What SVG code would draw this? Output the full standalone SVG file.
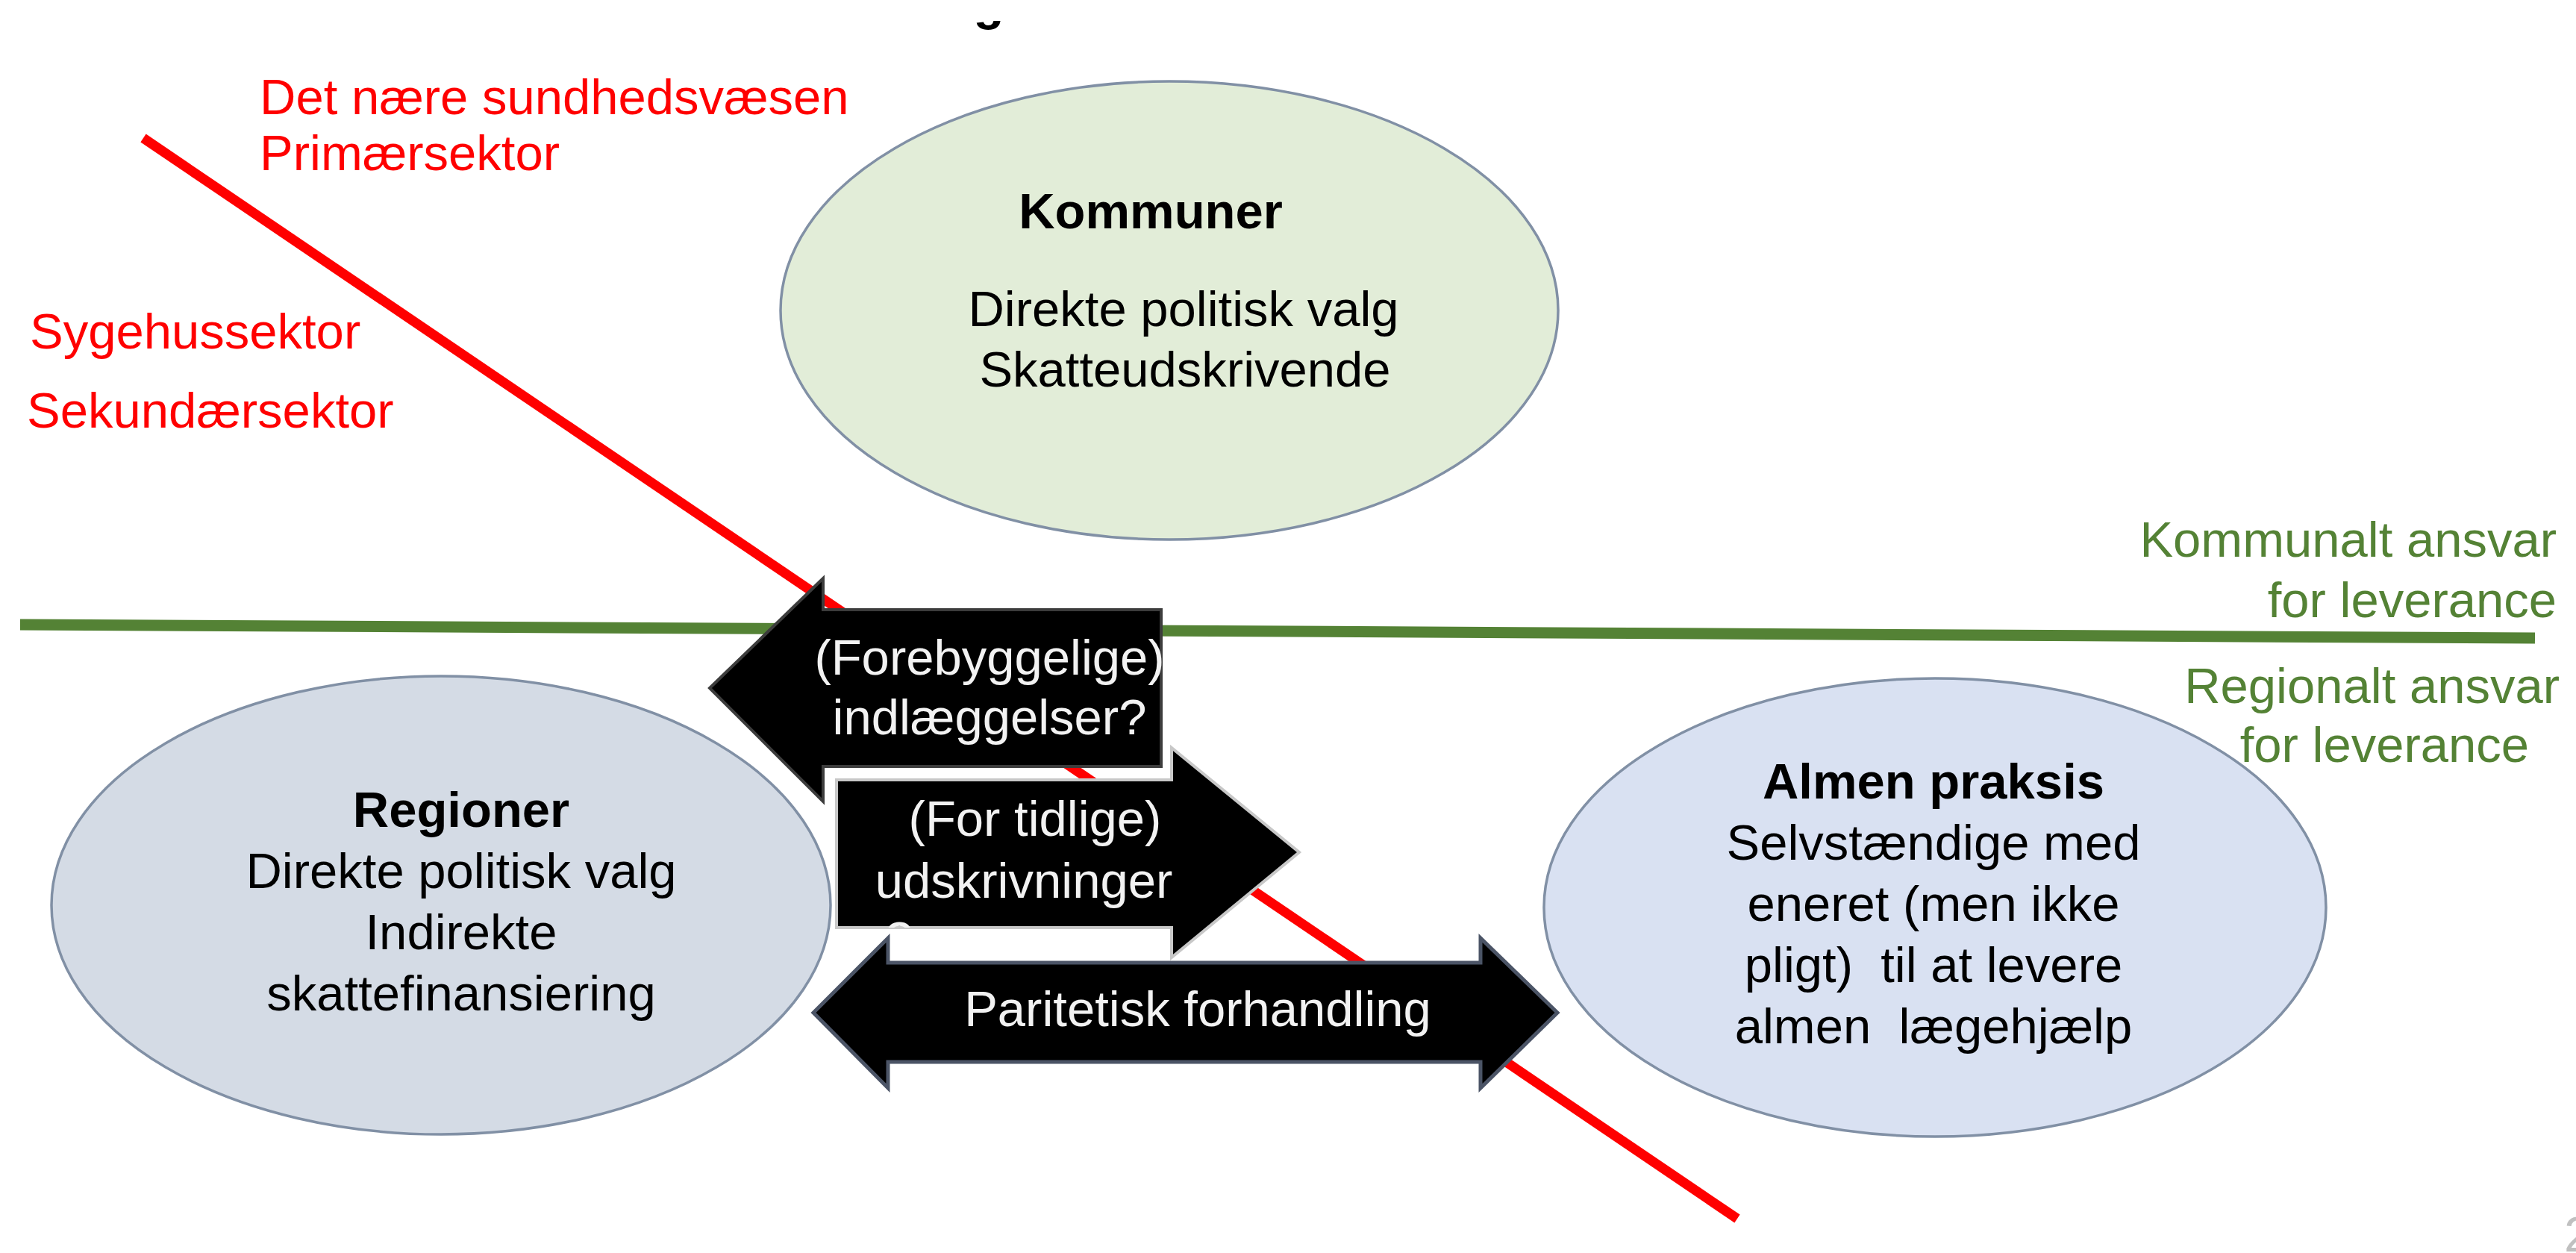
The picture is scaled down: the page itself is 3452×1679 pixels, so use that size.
<svg xmlns="http://www.w3.org/2000/svg" width="3452" height="1679" viewBox="0 0 3452 1679">
<style>
text{font-family:"Liberation Sans",Arial,sans-serif;font-size:67px;white-space:pre}
.n{fill:#000;text-anchor:middle}
.b{font-weight:bold}
.red{fill:#ff0000}
.grn{fill:#548235;text-anchor:end}
.w{fill:#f2f2f2;text-anchor:middle}
.ell{stroke:#8190a5;stroke-width:3.5}
</style>
<defs>
<clipPath id="topclip"><rect x="1200" y="28" width="300" height="60"/></clipPath>
<clipPath id="rbody"><rect x="1121" y="1045" width="449" height="198"/></clipPath>
</defs>
<rect width="3452" height="1679" fill="#fff"/>
<text x="1325" y="26" font-size="150" font-weight="bold" text-anchor="middle" clip-path="url(#topclip)" fill="#000">g</text>
<text x="3436" y="1677" font-size="40" fill="#c0c0c0">2</text>

<g id="dividers">
<line x1="27" y1="837" x2="3397" y2="855" stroke="#548235" stroke-width="15"/>
<line x1="192" y1="185" x2="2328" y2="1633" stroke="#ff0000" stroke-width="13"/>
</g>

<g id="labels">
<text class="red" x="348" y="153">Det nære sundhedsvæsen</text>
<text class="red" x="348" y="228">Primærsektor</text>
<text class="red" x="40" y="467">Sygehussektor</text>
<text class="red" x="36" y="573">Sekundærsektor</text>
<text class="grn" x="3426" y="746">Kommunalt ansvar</text>
<text class="grn" x="3426" y="827">for leverance</text>
<text class="grn" x="3430" y="942">Regionalt ansvar</text>
<text class="grn" x="3389" y="1021">for leverance</text>
</g>

<g id="kommuner">
<ellipse class="ell" cx="1567" cy="416" rx="521" ry="307" fill="#e2edd8"/>
<text class="n b" x="1542" y="306">Kommuner</text>
<text class="n" x="1586" y="437">Direkte politisk valg</text>
<text class="n" x="1588" y="518">Skatteudskrivende</text>
</g>

<g id="regioner">
<ellipse class="ell" cx="591" cy="1213" rx="522" ry="307" fill="#d4dbe5"/>
<text class="n b" x="618" y="1108">Regioner</text>
<text class="n" x="618" y="1190">Direkte politisk valg</text>
<text class="n" x="618" y="1272">Indirekte</text>
<text class="n" x="618" y="1354">skattefinansiering</text>
</g>

<g id="almen-praksis">
<ellipse class="ell" cx="2593" cy="1216" rx="524" ry="307" fill="#d9e1f2"/>
<text class="n b" x="2591" y="1070">Almen praksis</text>
<text class="n" x="2591" y="1152">Selvstændige med</text>
<text class="n" x="2591" y="1234">eneret (men ikke</text>
<text class="n" x="2591" y="1316">pligt)  til at levere</text>
<text class="n" x="2591" y="1398">almen  lægehjælp</text>
</g>

<g id="connectors">
<g id="arrow-indlaeggelser">
<polygon points="951,922 1103,775 1103,817 1556,817 1556,1027 1103,1027 1103,1074" fill="#000" stroke="#3c3c3c" stroke-width="4"/>
<text class="w" x="1326" y="904">(Forebyggelige)</text>
<text class="w" x="1326" y="984">indlæggelser?</text>
</g>
<g id="arrow-udskrivninger">
<polygon points="1121,1045 1570,1045 1570,1002 1741,1142 1570,1283 1570,1243 1121,1243" fill="#000" stroke="#c8c8c8" stroke-width="4"/>
<text class="w" x="1387" y="1120">(For tidlige)</text>
<text class="w" x="1372" y="1203">udskrivninger</text>
<text x="1186" y="1282" fill="#f2f2f2" clip-path="url(#rbody)">?</text>
</g>
<g id="arrow-forhandling">
<polygon points="1090,1357 1190,1257 1190,1290 1984,1290 1984,1257 2087,1357 1984,1458 1984,1423 1190,1423 1190,1458" fill="#000" stroke="#4b5466" stroke-width="5"/>
<text class="w" x="1605" y="1375">Paritetisk forhandling</text>
</g>
</g>
</svg>
